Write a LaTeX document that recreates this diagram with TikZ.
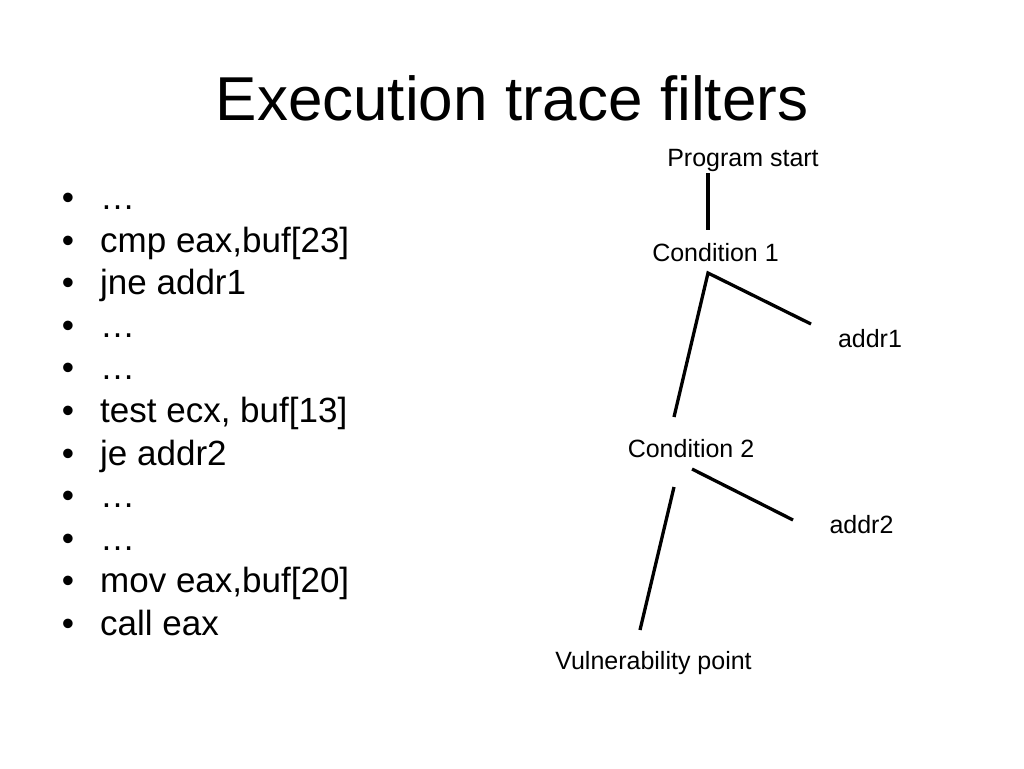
\documentclass[tikz,border=0pt]{standalone}
\usepackage{fontspec}
\setmainfont{Liberation Sans}
\usetikzlibrary{positioning}

\begin{document}
\begin{tikzpicture}[x=1pt, y=-1pt,
    title/.style={font=\fontsize{62}{74}\selectfont, anchor=base, inner sep=0pt},
    item/.style={font=\fontsize{35}{42}\selectfont, inner sep=0pt},
    label/.style={font=\fontsize{25}{30}\selectfont, anchor=base, inner sep=0pt},
    edge/.style={line width=3.3pt, draw=black},
]
\fill[white] (0,0) rectangle (1024,768);
\useasboundingbox (0,0) rectangle (1024,768);

\node[title] (title) at (512, 120) {Execution trace filters};

% Trace
\foreach \txt [count=\i from 0] in {…, {cmp eax,buf[23]}, jne addr1, …, …,
    {test ecx, buf[13]}, je addr2, …, …, {mov eax,buf[20]}, call eax} {
  \node[item, anchor=base] (dot\i) at (68, 209.4+42.6*\i) {•};
  \node[item, anchor=base west] (line\i) at (100, 209.4+42.6*\i) {\txt};
}

% Tree
\node[label] (start) at (743, 166) {Program start};
\node[label] (cond1) at (715.5, 261) {Condition 1};
\node[label] (addr1) at (870, 347) {addr1};
\node[label] (cond2) at (691, 457) {Condition 2};
\node[label] (addr2) at (861.5, 533) {addr2};
\node[label] (vuln) at (653.5, 669) {Vulnerability point};

\coordinate (starta) at (708, 173);
\coordinate (startb) at (708, 230);
\coordinate (cond1a) at (708, 273);
\coordinate (cond1b) at (811, 324);
\coordinate (cond1c) at (674, 417);
\coordinate (cond2a) at (692, 469);
\coordinate (cond2b) at (793, 520);
\coordinate (cond2c) at (674, 487);
\coordinate (cond2d) at (640, 630);

\draw[edge] (starta) -- (startb);
\draw[edge] (cond1b) -- (cond1a) -- (cond1c);
\draw[edge] (cond2a) -- (cond2b);
\draw[edge] (cond2c) -- (cond2d);

\end{tikzpicture}
\end{document}
